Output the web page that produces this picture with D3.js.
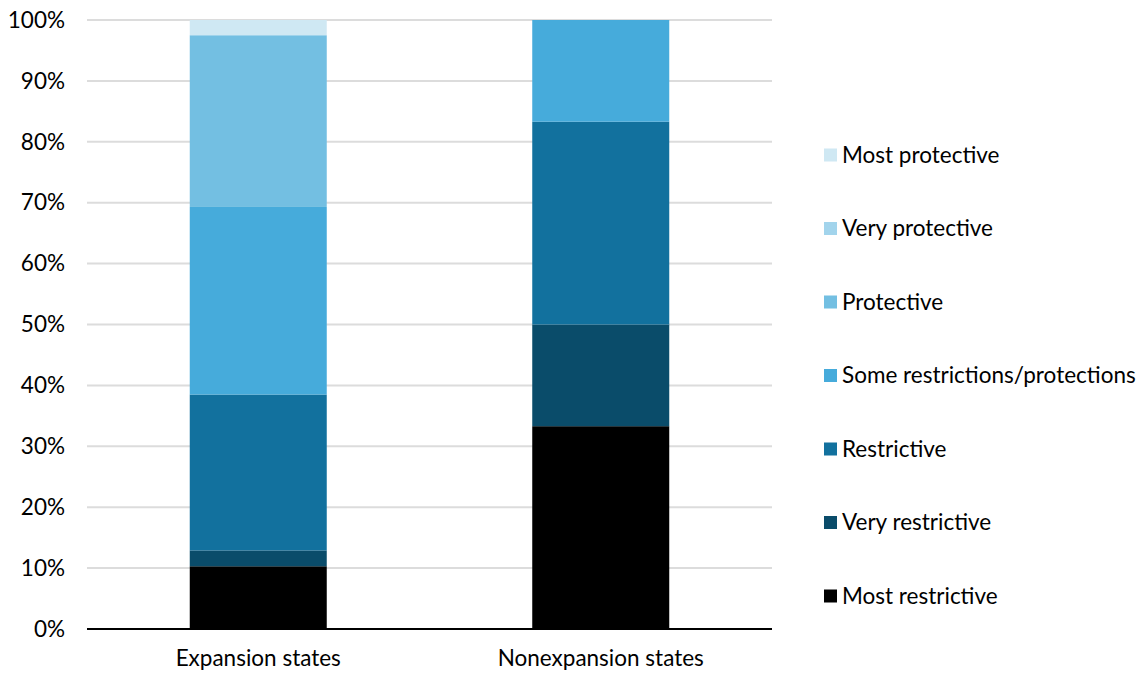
<!DOCTYPE html>
<html>
<head>
<meta charset="utf-8">
<script src="https://cdn.jsdelivr.net/npm/d3@7"></script>
<style>
  html, body { margin: 0; padding: 0; background: #fff; }
  svg { display: block; font-family: Lato, "Open Sans", sans-serif; }
</style>
</head>
<body>
<svg id="chart" width="1145" height="673"></svg>
<script>
// Share of states in each policy category (percent)
const categories = ["Expansion states", "Nonexpansion states"];
const seriesNames = [
  "Most restrictive",
  "Very restrictive",
  "Restrictive",
  "Some restrictions/protections",
  "Protective",
  "Very protective",
  "Most protective"
];
const mostRestrictive   = [10.3, 33.3];
const veryRestrictive   = [2.6, 16.7];
const restrictive       = [25.6, 33.3];
const someRestrictions  = [30.8, 16.7];
const protective        = [28.2, 0];
const veryProtective    = [0, 0];
const mostProtective    = [2.5, 0];
const yTicks = [0, 10, 20, 30, 40, 50, 60, 70, 80, 90, 100];
const colors = ["#000000", "#0a4c6a", "#12719e", "#46abdb", "#73bfe2", "#a2d4ec", "#cfe8f3"];

const seriesValues = [mostRestrictive, veryRestrictive, restrictive, someRestrictions,
                      protective, veryProtective, mostProtective];

const rows = categories.map((c, i) => {
  const r = { category: c };
  seriesNames.forEach((s, k) => { r[s] = seriesValues[k][i]; });
  return r;
});
const stacked = d3.stack().keys(seriesNames)(rows);

const FONT = 22.5;
const svg = d3.select("#chart");
const margin = { left: 87, right: 373, top: 20, bottom: 44 };
const W = 1145, H = 673;

const x = d3.scaleBand().domain(categories)
  .range([margin.left, W - margin.right])
  .paddingInner(0.6).paddingOuter(0.3);
const y = d3.scaleLinear().domain([0, 100]).range([H - margin.bottom, margin.top]);
const color = d3.scaleOrdinal().domain(seriesNames).range(colors);

// gridlines
svg.append("g")
  .selectAll("line").data(yTicks.filter(t => t > 0)).join("line")
  .attr("x1", margin.left).attr("x2", W - margin.right)
  .attr("y1", d => y(d)).attr("y2", d => y(d))
  .attr("stroke", "#dcdcdc").attr("stroke-width", 2);

// y axis labels
const yAxis = d3.axisLeft(y).tickValues(yTicks).tickFormat(d => d + "%").tickSize(0).tickPadding(22);
const gy = svg.append("g").attr("transform", `translate(${margin.left},0)`).call(yAxis);
gy.select(".domain").remove();
gy.selectAll("text").attr("font-size", FONT).attr("fill", "#000")
  .attr("font-family", "Lato, 'Open Sans', sans-serif");

// stacked bars
svg.append("g").selectAll("g").data(stacked).join("g")
  .attr("fill", d => color(d.key))
  .selectAll("rect").data(d => d).join("rect")
  .attr("x", d => x(d.data.category))
  .attr("width", x.bandwidth())
  .attr("y", d => y(d[1]))
  .attr("height", d => Math.max(0, y(d[0]) - y(d[1])));

// x axis
const xAxis = d3.axisBottom(x).tickSize(0).tickPadding(21);
const gx = svg.append("g").attr("transform", `translate(0,${y(0)})`).call(xAxis);
gx.select(".domain").attr("stroke", "#000").attr("stroke-width", 2)
  .attr("d", `M${margin.left},0H${W - margin.right}`);
gx.selectAll("text").attr("font-size", FONT).attr("fill", "#000")
  .attr("font-family", "Lato, 'Open Sans', sans-serif");

// legend (top item is the last series)
const legendItems = seriesNames.slice().reverse();
const lg = svg.append("g").attr("transform", "translate(824,155)");
const item = lg.selectAll("g").data(legendItems).join("g")
  .attr("transform", (d, i) => `translate(0,${i * 73.5})`);
item.append("rect").attr("x", 0).attr("y", -6.5).attr("width", 13).attr("height", 13)
  .attr("fill", d => color(d));
item.append("text").attr("x", 18).attr("y", 0).attr("dy", "0.35em")
  .attr("font-size", FONT).attr("fill", "#000").text(d => d);
</script>
</body>
</html>
